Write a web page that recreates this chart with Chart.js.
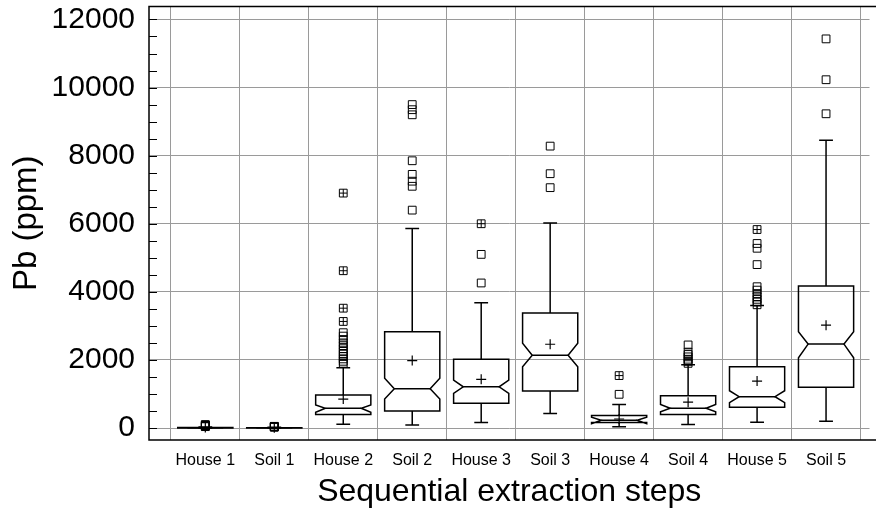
<!DOCTYPE html>
<html>
<head>
<meta charset="utf-8">
<title>Pb by sequential extraction step</title>
<script src="https://cdn.jsdelivr.net/npm/chart.js@4.4.1/dist/chart.umd.min.js"></script>
<style>
  html, body { margin: 0; padding: 0; background: #fff; }
  #wrap { width: 876px; height: 512px; }
</style>
</head>
<body>
<div id="wrap"><canvas id="chartPb"></canvas></div>
<script>
// --- DATA (ppm) ---
const categories = ['House 1', 'Soil 1', 'House 2', 'Soil 2', 'House 3', 'Soil 3', 'House 4', 'Soil 4', 'House 5', 'Soil 5'];

const whiskerLow  = [0, 0, 110, 90, 160, 430, 40, 100, 170, 200];
const q1          = [3, 2, 400, 500, 725, 1090, 160, 400, 610, 1195];
const median      = [8, 5, 580, 1150, 1210, 2140, 230, 580, 920, 2465];
const q3          = [15, 10, 970, 2830, 2020, 3380, 370, 945, 1800, 4175];
const whiskerHigh = [30, 20, 1770, 5860, 3680, 6020, 690, 1860, 3600, 8450];
const notchLow    = [5, 3, 460, 850, 1020, 1800, 130, 480, 745, 2065];
const notchHigh   = [11, 7, 680, 1460, 1410, 2490, 320, 690, 1095, 2825];
const means       = [15, 10, 850, 1980, 1430, 2460, 265, 760, 1380, 3020];

// single outside points
const outliers = [
  [40, 50, 60, 70, 80, 90, 100],
  [25, 30, 35, 40, 45, 50],
  [1900, 1960, 2030, 2100, 2170, 2250, 2330, 2420, 2500, 2600, 2700, 2800],
  [6400, 7100, 7250, 7450, 7850, 9200, 9350, 9500],
  [4260, 5100],
  [7060, 7470, 8280],
  [990],
  [1900, 1960, 2020, 2090, 2160, 2230, 2440],
  [3620, 3700, 3780, 3860, 3950, 4050, 4150, 4800, 5280, 5420],
  [9230, 10230, 11430]
];
// points where several samples coincide (drawn as crossed squares)
const stackedOutliers = [
  [], [],
  [3130, 3520, 4620, 6900],
  [],
  [6000],
  [],
  [1540],
  [],
  [5830],
  []
];

const yTickValues = [];
for (let v = 0; v <= 12000; v += 500) yTickValues.push(v);

// --- STYLE CONSTANTS ---
const BOX_W = 0.8;      // box width in category units
const NOTCH_IN = 0.14;  // notch indent in category units
const CAP_W = 0.2;      // whisker cap width
const GRID = '#9a9a9a';
const FONT = "'Liberation Sans', Arial, sans-serif";

function toPoints(lists) {
    return lists.flatMap((list, i) => list.map(v => ({ x: i, y: v })));
}

// boxes, notches and whiskers, drawn from the scales
const boxPlotPlugin = {
    id: 'boxPlot',
    beforeDatasetsDraw(chart) {
        const { ctx, chartArea, scales: { x, y } } = chart;
        ctx.save();
        ctx.beginPath();
        ctx.rect(chartArea.left, chartArea.top, chartArea.width, chartArea.height);
        ctx.clip();
        ctx.strokeStyle = '#000';
        ctx.lineWidth = 1.5;
        categories.forEach((c, i) => {
            const cx = x.getPixelForValue(i);
            const half = x.getPixelForValue(i + BOX_W / 2) - cx;
            const ind = x.getPixelForValue(i + NOTCH_IN) - cx;
            const cap = x.getPixelForValue(i + CAP_W / 2) - cx;
            const yq1 = y.getPixelForValue(q1[i]);
            const yq3 = y.getPixelForValue(q3[i]);
            const ymed = y.getPixelForValue(median[i]);
            const ynl = y.getPixelForValue(notchLow[i]);
            const ynh = y.getPixelForValue(notchHigh[i]);
            const ywl = y.getPixelForValue(whiskerLow[i]);
            const ywh = y.getPixelForValue(whiskerHigh[i]);
            const L = cx - half, R = cx + half;

            // notched box
            ctx.beginPath();
            ctx.moveTo(L, yq1);
            ctx.lineTo(L, ynl);
            ctx.lineTo(L + ind, ymed);
            ctx.lineTo(L, ynh);
            ctx.lineTo(L, yq3);
            ctx.lineTo(R, yq3);
            ctx.lineTo(R, ynh);
            ctx.lineTo(R - ind, ymed);
            ctx.lineTo(R, ynl);
            ctx.lineTo(R, yq1);
            ctx.closePath();
            ctx.stroke();

            // median
            ctx.beginPath();
            ctx.moveTo(L + ind, ymed);
            ctx.lineTo(R - ind, ymed);
            ctx.stroke();

            // whiskers + caps
            ctx.beginPath();
            ctx.moveTo(cx, yq3); ctx.lineTo(cx, ywh);
            ctx.moveTo(cx, yq1); ctx.lineTo(cx, ywl);
            ctx.moveTo(cx - cap, ywh); ctx.lineTo(cx + cap, ywh);
            ctx.moveTo(cx - cap, ywl); ctx.lineTo(cx + cap, ywl);
            ctx.stroke();
        });
        ctx.restore();
    }
};

// frame (left, top, bottom) and inward y ticks
const framePlugin = {
    id: 'frame',
    afterDraw(chart) {
        const { ctx, chartArea: a, scales: { y } } = chart;
        ctx.save();
        ctx.strokeStyle = '#000';
        ctx.lineWidth = 1.5;
        ctx.beginPath();
        ctx.moveTo(chart.width, a.top); ctx.lineTo(a.left, a.top);
        ctx.lineTo(a.left, a.bottom); ctx.lineTo(chart.width, a.bottom);
        ctx.stroke();
        ctx.lineWidth = 1;
        ctx.beginPath();
        y.ticks.forEach(t => {
            const py = Math.round(y.getPixelForValue(t.value)) + 0.5;
            ctx.moveTo(a.left, py);
            ctx.lineTo(a.left + 8, py);
        });
        ctx.stroke();
        ctx.restore();
    }
};

function flatPadding(scale) {
    scale.paddingTop = 0; scale.paddingBottom = 0;
    scale.paddingLeft = 0; scale.paddingRight = 0;
}

const ctxPb = document.getElementById('chartPb').getContext('2d');
new Chart(ctxPb, {
    type: 'scatter',
    data: {
        datasets: [
            {
                label: 'Mean',
                data: means.map((m, i) => ({ x: i, y: m })),
                pointStyle: 'cross',
                pointRadius: 5,
                borderColor: '#000',
                borderWidth: 1.2
            },
            {
                label: 'Outliers',
                data: toPoints(outliers),
                pointStyle: 'rect',
                pointRadius: 5.5,
                borderColor: '#000',
                backgroundColor: 'transparent',
                borderWidth: 1
            },
            {
                label: 'Coinciding outliers',
                data: toPoints(stackedOutliers),
                pointStyle: 'rect',
                pointRadius: 5.5,
                borderColor: '#000',
                backgroundColor: 'transparent',
                borderWidth: 1
            },
            {
                label: 'Coinciding outliers (cross)',
                data: toPoints(stackedOutliers),
                pointStyle: 'cross',
                pointRadius: 3.9,
                borderColor: '#000',
                borderWidth: 1
            }
        ]
    },
    options: {
        responsive: true,
        maintainAspectRatio: false,
        animation: false,
        layout: { padding: { top: 6, right: 1, left: 0, bottom: 0 } },
        plugins: {
            legend: { display: false },
            tooltip: { enabled: false }
        },
        scales: {
            x: {
                type: 'linear',
                min: -0.8165,
                max: 9.63,
                afterBuildTicks: s => {
                    const t = [];
                    for (let v = -0.5; v <= 9.5; v += 0.5) t.push({ value: v });
                    s.ticks = t;
                },
                afterFit: s => { s.height = 72; flatPadding(s); },
                border: { display: false },
                grid: {
                    drawTicks: false,
                    lineWidth: 1,
                    color: c => Number.isInteger(c.tick.value) ? 'transparent' : GRID
                },
                ticks: {
                    autoSkip: false,
                    maxRotation: 0,
                    minRotation: 0,
                    padding: 11,
                    color: '#000',
                    font: { family: FONT, size: 16 },
                    callback: v => Number.isInteger(v) ? categories[v] : ''
                },
                title: {
                    display: true,
                    text: 'Sequential extraction steps',
                    color: '#000',
                    font: { family: FONT, size: 32 },
                    padding: { top: 0, bottom: 1 }
                }
            },
            y: {
                min: -352,
                max: 12381,
                afterBuildTicks: s => { s.ticks = yTickValues.map(v => ({ value: v })); },
                afterFit: s => { s.width = 149; flatPadding(s); },
                border: { display: false },
                grid: {
                    drawTicks: false,
                    lineWidth: 1,
                    color: c => c.tick.value % 2000 === 0 ? GRID : 'transparent'
                },
                ticks: {
                    autoSkip: false,
                    padding: 14,
                    color: '#000',
                    font: { family: FONT, size: 30 },
                    callback: v => v % 2000 === 0 ? String(v) : ''
                },
                title: {
                    display: true,
                    text: 'Pb (ppm)',
                    color: '#000',
                    font: { family: FONT, size: 33 },
                    padding: { top: 7, bottom: 0 }
                }
            }
        }
    },
    plugins: [boxPlotPlugin, framePlugin]
});
</script>
</body>
</html>
